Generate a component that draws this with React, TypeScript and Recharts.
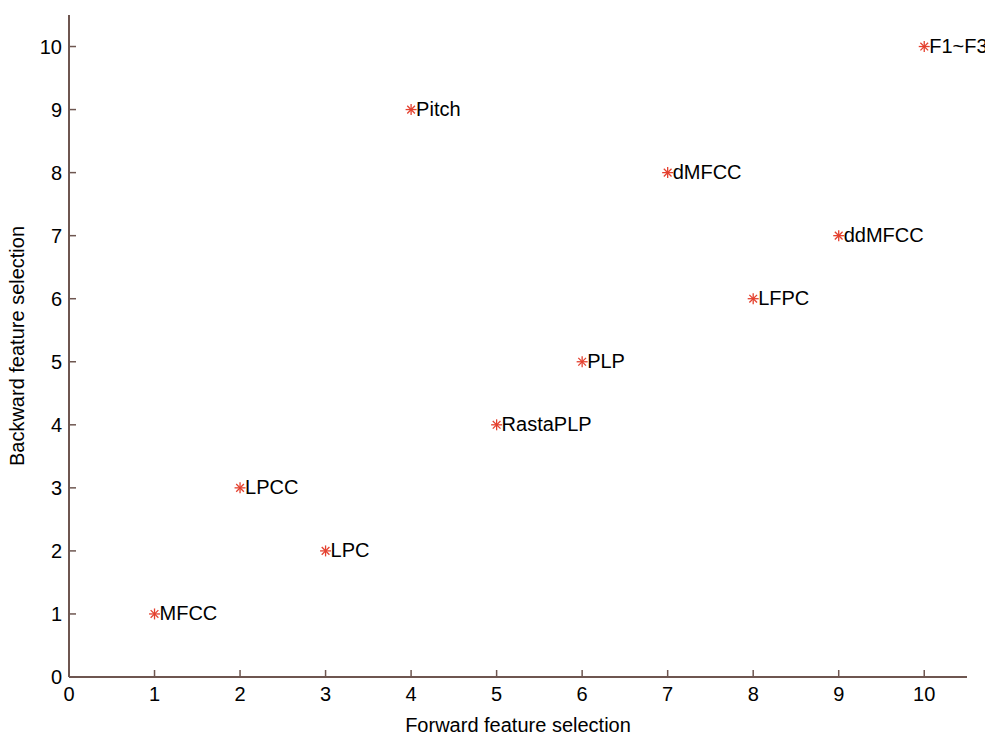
import React from "react";
import { ScatterChart, Scatter, XAxis, YAxis, LabelList, Label } from "recharts";

const featureNames = ["MFCC", "LPCC", "LPC", "Pitch", "RastaPLP", "PLP", "dMFCC", "LFPC", "ddMFCC", "F1~F3"];
const forwardRank = [1, 2, 3, 4, 5, 6, 7, 8, 9, 10];
const backwardRank = [1, 3, 2, 9, 4, 5, 8, 6, 7, 10];
const axisTicks = [0, 1, 2, 3, 4, 5, 6, 7, 8, 9, 10];

const data = featureNames.map((name, i) => ({
    name,
    x: forwardRank[i],
    y: backwardRank[i],
}));

const FONT = "Arial, 'Liberation Sans', Helvetica, sans-serif";
const AXIS_COLOR = "#6e5650";
const MARK_COLOR = "#e4412f";
const TEXT_SIZE = 20;

const Asterisk = (props: any) => {
    const { cx, cy } = props;
    const r = 5.5;
    const d = r * 0.7;
    return (
        <g stroke={MARK_COLOR} strokeWidth={1.3}>
            <line x1={cx - r} y1={cy} x2={cx + r} y2={cy} />
            <line x1={cx} y1={cy - r} x2={cx} y2={cy + r} />
            <line x1={cx - d} y1={cy - d} x2={cx + d} y2={cy + d} />
            <line x1={cx - d} y1={cy + d} x2={cx + d} y2={cy - d} />
        </g>
    );
};

const XTick = (props: any) => {
    const { x, y, payload } = props;
    return (
        <g>
            <line x1={x} y1={y} x2={x} y2={y - 7} stroke={AXIS_COLOR} strokeWidth={1.5} />
            <text x={x} y={y + 17} textAnchor="middle" dominantBaseline="central" fontSize={TEXT_SIZE} fill="#000" fontFamily={FONT}>
                {payload.value}
            </text>
        </g>
    );
};

const YTick = (props: any) => {
    const { x, y, payload } = props;
    return (
        <g>
            <line x1={x} y1={y} x2={x + 7} y2={y} stroke={AXIS_COLOR} strokeWidth={1.5} />
            <text x={x - 7} y={y} textAnchor="end" dominantBaseline="central" fontSize={TEXT_SIZE} fill="#000" fontFamily={FONT}>
                {payload.value}
            </text>
        </g>
    );
};

const PointLabel = (props: any) => {
    const { x, y, width, height, value } = props;
    const cx = x + (width || 0) / 2;
    const cy = y + (height || 0) / 2;
    return (
        <text x={cx + 5} y={cy - 1} dominantBaseline="central" fontSize={TEXT_SIZE} fill="#000" fontFamily={FONT}>
            {value}
        </text>
    );
};

export default function App() {
    return (
        <div style={{ position: "absolute", left: 0, top: 0, width: 985, height: 737, background: "#fff" }}>
            <ScatterChart width={985} height={737} margin={{ top: 15, right: 18, bottom: 0, left: 0 }}>
                <XAxis
                    type="number"
                    dataKey="x"
                    domain={[0, 10.5]}
                    ticks={axisTicks}
                    interval={0}
                    height={60}
                    tickSize={0}
                    tickMargin={0}
                    tick={<XTick />}
                    axisLine={{ stroke: AXIS_COLOR, strokeWidth: 2 }}
                    allowDataOverflow
                >
                    <Label
                        value="Forward feature selection"
                        position="insideBottom"
                        offset={5}
                        style={{ fontSize: TEXT_SIZE, fill: "#000", fontFamily: FONT }}
                    />
                </XAxis>
                <YAxis
                    type="number"
                    dataKey="y"
                    domain={[0, 10.5]}
                    ticks={axisTicks}
                    interval={0}
                    width={69}
                    tickSize={0}
                    tickMargin={0}
                    tick={<YTick />}
                    axisLine={{ stroke: AXIS_COLOR, strokeWidth: 2 }}
                    allowDataOverflow
                >
                    <Label
                        value="Backward feature selection"
                        angle={-90}
                        position="insideLeft"
                        offset={17}
                        style={{ fontSize: TEXT_SIZE, fill: "#000", fontFamily: FONT, textAnchor: "middle" }}
                    />
                </YAxis>
                <Scatter data={data} shape={<Asterisk />} isAnimationActive={false}>
                    <LabelList dataKey="name" content={<PointLabel />} />
                </Scatter>
            </ScatterChart>
        </div>
    );
}
